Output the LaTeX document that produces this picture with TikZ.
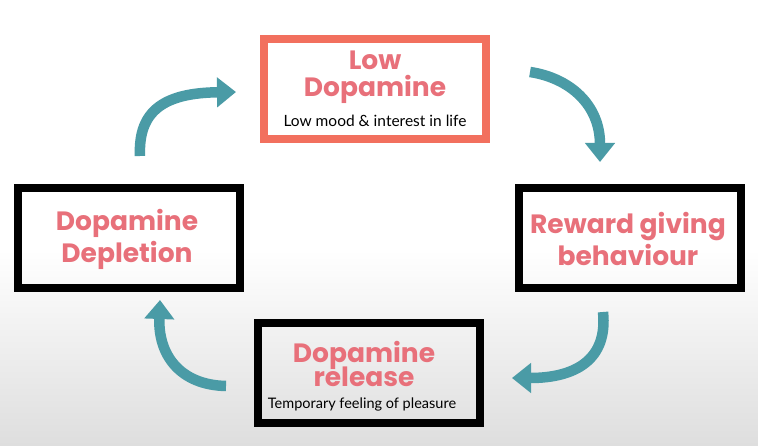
\documentclass[tikz,border=0pt]{standalone}
\usepackage{fontspec}
\setmainfont{Poppins}
\newfontfamily\smallf{Lato}
\usetikzlibrary{arrows.meta}
\definecolor{pinkt}{HTML}{E8707A}
\definecolor{salm}{HTML}{F2705E}
\definecolor{teal}{HTML}{4A9BA6}
\begin{document}
\begin{tikzpicture}[x=1pt,y=-1pt,
  box/.style={draw=black,line width=8.5pt,minimum width=222pt,minimum height=100pt,inner sep=0pt},
  ttl/.style={text=pinkt,font=\bfseries\fontsize{26.5}{30}\selectfont,align=center},
  sub/.style={font=\smallf\fontsize{15.5}{17}\selectfont},
  arr/.style={teal,line width=10.5pt,-{Triangle[length=19pt,width=29pt]}}]
\shade[top color=white,bottom color=white] (0,0) rectangle (758,250);
\shade[top color=white,bottom color=black!13] (0,250) rectangle (758,446);
\useasboundingbox (0,0) rectangle (758,446);
\node[box,draw=salm] (low) at (375,89) {};
\node[ttl] (lowt) at (375,77) {Low\\[-3pt]Dopamine};
\node[sub] (lows) at (375,121) {Low mood \& interest in life};
\node[box] (rew) at (630,238) {};
\node[ttl] (rewt) at (628,239) {Reward giving\\[2pt]behaviour};
\node[box] (rel) at (369,373) {};
\node[ttl] (relt) at (364,364) {Dopamine\\[-6pt]release};
\node[sub,font=\smallf\fontsize{14.5}{16}\selectfont] (rels) at (362,404) {Temporary feeling of pleasure};
\node[box] (dep) at (129,238) {};
\node[ttl] (dept) at (127,239) {Dopamine\\[2pt]Depletion};
\coordinate (a1) at (140,156); \coordinate (a1e) at (236,92);
\draw[arr] (a1) .. controls (138,110) and (165,93) .. (a1e);
\coordinate (a2) at (530,72); \coordinate (a2e) at (600,162);
\draw[arr] (a2) .. controls (570,78) and (600,105) .. (a2e);
\coordinate (a3) at (603,312); \coordinate (a3e) at (512,378);
\draw[arr] (a3) .. controls (608,360) and (575,378) .. (a3e);
\coordinate (a4) at (226,386); \coordinate (a4e) at (160,300);
\draw[arr] (a4) .. controls (180,385) and (158,355) .. (a4e);
\end{tikzpicture}
\end{document}
